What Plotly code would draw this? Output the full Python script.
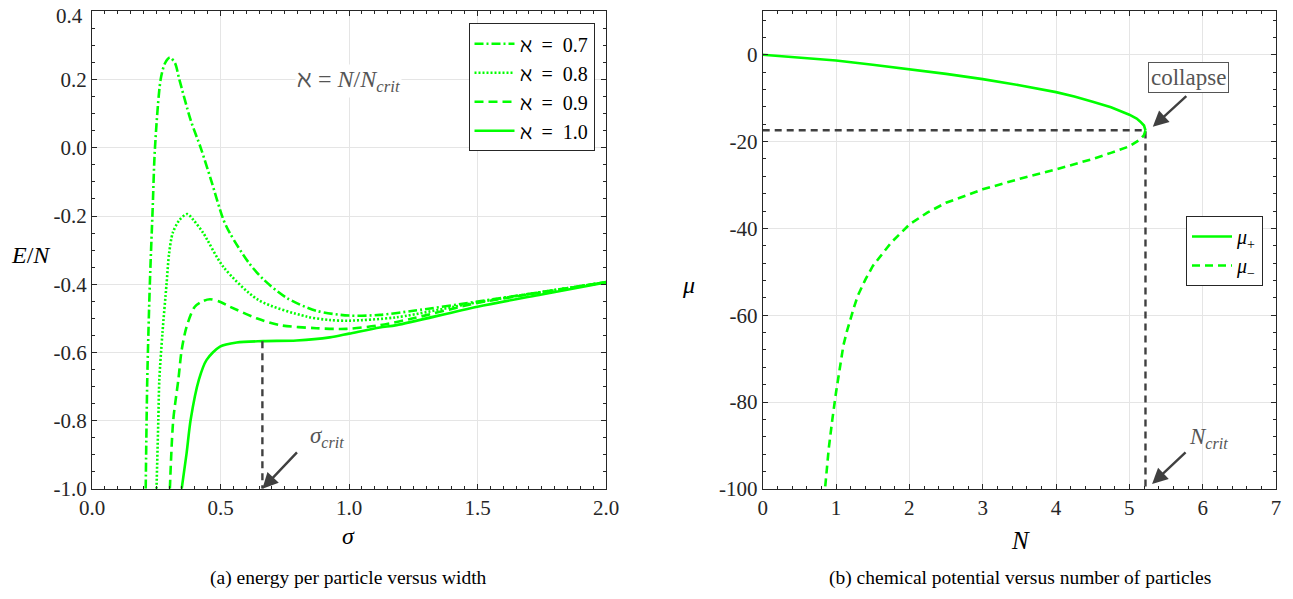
import plotly.graph_objects as go

# ---------------- data ----------------
sigma_07 = [0.209, 0.215, 0.225, 0.236, 0.245, 0.267, 0.284, 0.303, 0.323, 0.340, 0.384, 0.423,
            0.463, 0.511, 0.537, 0.608, 0.666, 0.757, 0.873, 1.0, 1.12, 1.25, 1.5, 1.75, 2.0]
E_07 = [-1.0, -0.68, -0.40, -0.18, 0.0, 0.2, 0.248, 0.265, 0.248, 0.2, 0.081, 0.0,
        -0.094, -0.21, -0.251, -0.335, -0.385, -0.44, -0.478, -0.492, -0.49, -0.478, -0.451, -0.423, -0.394]

sigma_08 = [0.251, 0.258, 0.262, 0.274, 0.29, 0.30, 0.314, 0.340, 0.371, 0.395, 0.433, 0.511,
            0.647, 0.835, 0.925, 1.0, 1.185, 1.5, 1.75, 2.0]
E_08 = [-1.0, -0.8, -0.68, -0.544, -0.40, -0.31, -0.25, -0.212, -0.194, -0.212, -0.25, -0.349,
        -0.446, -0.495, -0.505, -0.507, -0.497, -0.453, -0.423, -0.394]

sigma_09 = [0.303, 0.316, 0.336, 0.349, 0.368, 0.40, 0.43, 0.459, 0.50, 0.537, 0.64, 0.731,
            0.873, 0.99, 1.12, 1.25, 1.5, 1.75, 2.0]
E_09 = [-1.0, -0.8, -0.68, -0.593, -0.525, -0.466, -0.45, -0.444, -0.452, -0.466, -0.5, -0.52,
        -0.529, -0.531, -0.52, -0.5, -0.455, -0.424, -0.394]

sigma_10 = [0.349, 0.368, 0.384, 0.416, 0.446, 0.498, 0.563, 0.666, 0.796, 0.925, 1.0, 1.12,
            1.185, 1.5, 1.75, 2.0]
E_10 = [-1.0, -0.896, -0.797, -0.68, -0.622, -0.583, -0.571, -0.567, -0.565, -0.556, -0.545, -0.527,
        -0.52, -0.466, -0.43, -0.395]

sigma_crit = 0.663
E_crit = -0.567

N_plus = [0, 0.5, 1, 1.5, 2, 2.5, 3, 3.5, 4, 4.25, 4.5, 4.75, 5, 5.1, 5.15, 5.2, 5.22]
mu_plus = [0, -0.6, -1.3, -2.3, -3.3, -4.4, -5.6, -7.0, -8.6, -9.6, -10.8, -12.1, -13.8, -14.7,
           -15.4, -16.3, -17.4]

N_minus = [5.22, 5.2, 5.15, 5.1, 5.0, 4.75, 4.5, 4.0, 3.5, 3.0, 2.5, 2.25, 2.0, 1.75, 1.5, 1.4,
           1.3, 1.25, 1.2, 1.15, 1.1, 1.05, 1.0, 0.95, 0.9, 0.85]
mu_minus = [-17.4, -18.5, -19.5, -20.1, -21.1, -22.6, -24.0, -26.4, -28.6, -31.0, -34.1, -36.3,
            -39.1, -43.3, -48.7, -51.8, -55.4, -57.9, -60.6, -63.6, -67.0, -72.0, -77.8, -84.0,
            -90.8, -100]

N_crit = 5.22
mu_crit = -17.4

left_legend = ["ℵ\u2002=\u20020.7", "ℵ\u2002=\u20020.8", "ℵ\u2002=\u20020.9", "ℵ\u2002=\u20021.0"]
right_legend = ["<i>μ</i><sub>+</sub>", "<i>μ</i><sub>−</sub>"]

left_xticks = [0.0, 0.5, 1.0, 1.5, 2.0]
left_xticktext = ["0.0", "0.5", "1.0", "1.5", "2.0"]
left_yticks = [-1.0, -0.8, -0.6, -0.4, -0.2, 0.0, 0.2, 0.4]
left_yticktext = ["-1.0", "-0.8", "-0.6", "-0.4", "-0.2", "0.0", "0.2", "0.4"]
right_xticks = [0, 1, 2, 3, 4, 5, 6, 7]
right_xticktext = ["0", "1", "2", "3", "4", "5", "6", "7"]
right_yticks = [-100, -80, -60, -40, -20, 0]
right_yticktext = ["-100", "-80", "-60", "-40", "-20", "0"]

# ---------------- style ----------------
W, H = 1293, 599
OFF = 8  # page body margin
GREEN = "#00ff00"
DARK = "#404040"
AX = "#262626"
GRID = "#e5e5e5"
FONT = "Liberation Serif"
LW = 2.6
GRAYTXT = "#555555"
TICKSIZE = 21


def px(x):
    return (x - OFF) / W


def py(y):
    return 1 - (y - OFF) / H


fig = go.Figure()

styles = ["9px,3px,2px,3px", "2px,2px", "9px,5px", "solid"]
series = [(sigma_07, E_07), (sigma_08, E_08), (sigma_09, E_09), (sigma_10, E_10)]
for (xs, ys), name, dash in zip(series, left_legend, styles):
    fig.add_trace(go.Scatter(x=xs, y=ys, mode="lines", name=name,
                             line=dict(color=GREEN, width=LW, dash=dash, shape="spline", smoothing=0.8),
                             xaxis="x", yaxis="y", legend="legend"))

fig.add_trace(go.Scatter(x=[sigma_crit, sigma_crit], y=[E_crit, -1.0], mode="lines",
                         line=dict(color=DARK, width=2.4, dash="7px,5px"), showlegend=False,
                         xaxis="x", yaxis="y"))

fig.add_trace(go.Scatter(x=[0, N_crit, N_crit], y=[mu_crit, mu_crit, -100], mode="lines",
                         line=dict(color=DARK, width=2.4, dash="7px,5px"), showlegend=False,
                         xaxis="x2", yaxis="y2"))

fig.add_trace(go.Scatter(x=N_plus, y=mu_plus, mode="lines", name=right_legend[0],
                         line=dict(color=GREEN, width=LW),
                         xaxis="x2", yaxis="y2", legend="legend2"))
fig.add_trace(go.Scatter(x=N_minus, y=mu_minus, mode="lines", name=right_legend[1],
                         line=dict(color=GREEN, width=LW, dash="8px,5px"),
                         xaxis="x2", yaxis="y2", legend="legend2"))

tickfont = dict(family=FONT, size=TICKSIZE, color=AX)


def axis(domain, rng, tv, tt, minor_dtick, anchor):
    return dict(domain=domain, range=rng, tickmode="array", tickvals=tv, ticktext=tt,
                ticks="inside", ticklen=5, tickwidth=1, tickcolor=AX,
                showline=True, linecolor=AX, linewidth=1, mirror="ticks",
                showgrid=True, gridcolor=GRID, gridwidth=1, zeroline=False,
                tickfont=tickfont, anchor=anchor, automargin=False, ticklabeloverflow="allow",
                minor=dict(tickmode="linear", tick0=0, dtick=minor_dtick, ticks="inside",
                           ticklen=3, tickcolor=AX, showgrid=False))


# the top tick label of the left y axis would be clipped by the page edge,
# so it is drawn as an annotation a few pixels lower
left_ytick_axis_text = left_yticktext[:-1] + [""]

ydom = [py(488.8), py(11.4)]
fig.update_layout(
    width=W, height=H, margin=dict(l=0, r=0, t=0, b=0, pad=0, autoexpand=False),
    paper_bgcolor="white", plot_bgcolor="white",
    xaxis=axis([px(92), px(606)], [0, 2], left_xticks, left_xticktext, 0.05, "y"),
    yaxis=axis(ydom, [-1.0, 0.4], left_yticks, left_ytick_axis_text, 0.05, "x"),
    xaxis2=axis([px(762.7), px(1276)], [0, 7], right_xticks, right_xticktext, 0.2, "y2"),
    yaxis2=axis(ydom, [-100, 10], right_yticks, right_yticktext, 4, "x2"),
    legend=dict(x=px(594.5), y=py(23.3), xanchor="right", yanchor="top",
                bgcolor="white", bordercolor=AX, borderwidth=1,
                font=dict(family=FONT, size=20, color="black"), tracegroupgap=0,
                itemwidth=40),
    legend2=dict(x=px(1263), y=py(216), xanchor="right", yanchor="top",
                 bgcolor="white", bordercolor=AX, borderwidth=1,
                 font=dict(family=FONT, size=20, color="black"), itemwidth=40),
    showlegend=True,
)


def txt(x, y, text, size, color="black", **kw):
    d = dict(x=px(x), y=py(y), xref="paper", yref="paper", text=text, showarrow=False,
             xanchor="center", yanchor="middle", font=dict(family=FONT, size=size, color=color))
    d.update(kw)
    return d


ann = []
# top tick label of the left y axis
ann.append(txt(85, 16, left_yticktext[-1], TICKSIZE, AX, xanchor="right"))
# axis titles
ann.append(txt(348, 536, "<i>σ</i>", 24))
ann.append(txt(31, 255, "<i>E</i>/<i>N</i>", 24))
ann.append(txt(1020, 540, "<i>N</i>", 25))
ann.append(txt(688, 285, "<i>μ</i>", 24))
# captions
ann.append(txt(348, 578, "(a) energy per particle versus width", 19.5))
ann.append(txt(1020, 578, "(b) chemical potential versus number of particles", 19.5))
# aleph label
ann.append(txt(348, 81, "ℵ = <i>N</i>/<i>N</i><sub><i>crit</i></sub>", 24, GRAYTXT, bgcolor="white"))
# sigma_crit
ann.append(dict(x=sigma_crit, y=-1.0, xref="x", yref="y", ax=36, ay=-38, text="",
                showarrow=True, arrowhead=2, arrowsize=1.3, arrowwidth=2.4, arrowcolor=DARK))
ann.append(txt(327, 437, "<i>σ</i><sub><i>crit</i></sub>", 23, GRAYTXT))
# collapse
ann.append(dict(x=5.32, y=-16.6, xref="x2", yref="y2", ax=35, ay=-32, text="",
                showarrow=True, arrowhead=2, arrowsize=1.3, arrowwidth=2.4, arrowcolor=DARK))
ann.append(txt(1188, 77.5, "collapse", 23, GRAYTXT, bgcolor="white", bordercolor=GRAYTXT,
               borderwidth=1, borderpad=2))
# N_crit
ann.append(dict(x=5.31, y=-98.9, xref="x2", yref="y2", ax=35, ay=-33, text="",
                showarrow=True, arrowhead=2, arrowsize=1.3, arrowwidth=2.4, arrowcolor=DARK))
ann.append(txt(1208, 438, "<i>N</i><sub><i>crit</i></sub>", 23, GRAYTXT))

fig.update_layout(annotations=ann)
fig.write_html("out.html")
